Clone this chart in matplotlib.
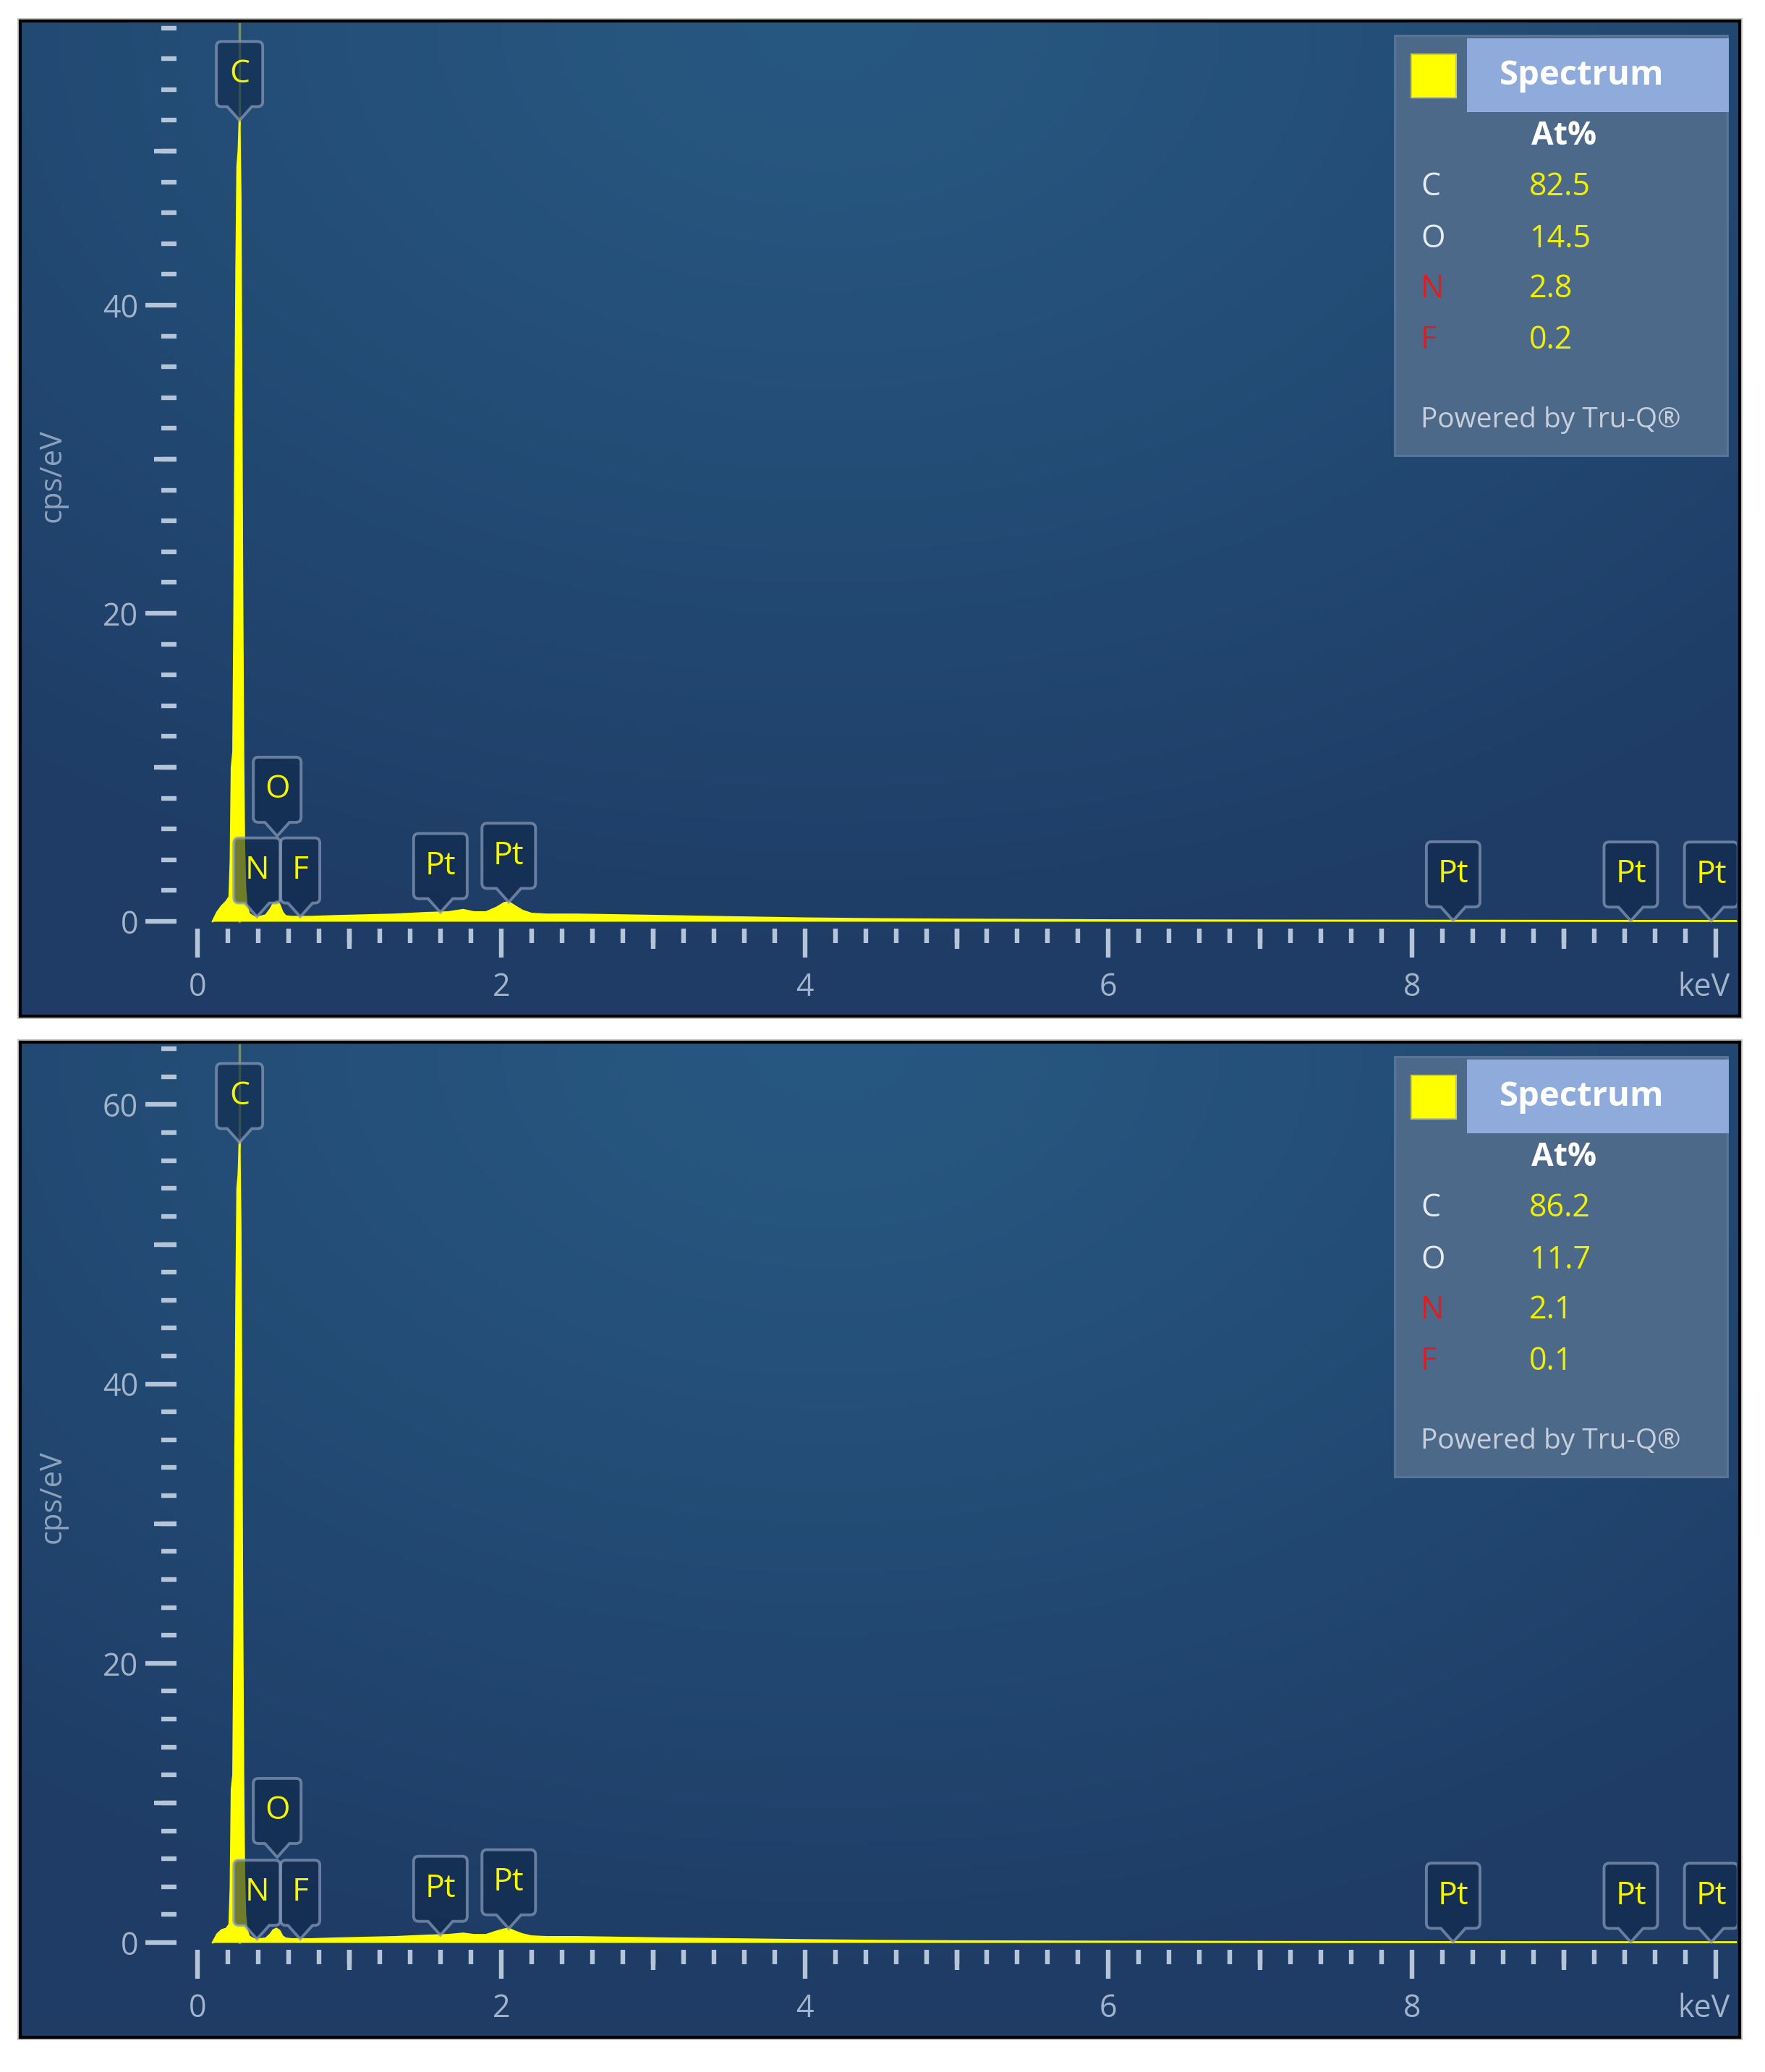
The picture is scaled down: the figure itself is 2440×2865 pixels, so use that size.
import numpy as np
import matplotlib
matplotlib.use('Agg')
import matplotlib.pyplot as plt
from matplotlib.path import Path
from matplotlib.patches import PathPatch, Rectangle
from matplotlib import transforms
from matplotlib.ticker import MultipleLocator, FixedLocator

plt.rcParams['font.family'] = ['Open Sans', 'DejaVu Sans']

# ---- data ----
energy_kev = [0.10, 0.13, 0.16, 0.19, 0.21, 0.218, 0.225, 0.235, 0.242, 0.248,
              0.255, 0.262, 0.270, 0.277, 0.284, 0.290, 0.296, 0.302, 0.308, 0.315,
              0.325, 0.34, 0.37, 0.41, 0.45, 0.48, 0.50, 0.52, 0.54, 0.56,
              0.58, 0.62, 0.68, 0.75, 0.90, 1.10, 1.30, 1.50, 1.65, 1.75,
              1.82, 1.90, 1.97, 2.02, 2.05, 2.09, 2.14, 2.20, 2.30, 2.50,
              2.80, 3.10, 3.50, 4.00, 4.50, 5.00, 6.00, 7.00, 8.00, 9.00, 10.20]
counts_top = [0.0, 0.6, 1.0, 1.3, 1.6, 4.0, 10.0, 11.0, 20.0, 31.0,
              42.0, 49.0, 50.0, 52.0, 47.0, 34.0, 21.0, 11.0, 5.0, 2.2,
              1.0, 0.5, 0.3, 0.3, 0.4, 0.8, 1.15, 1.3, 1.1, 0.6,
              0.35, 0.3, 0.3, 0.3, 0.35, 0.4, 0.45, 0.55, 0.6, 0.75,
              0.6, 0.6, 0.9, 1.2, 1.25, 1.0, 0.7, 0.5, 0.45, 0.45,
              0.4, 0.35, 0.28, 0.2, 0.15, 0.12, 0.08, 0.06, 0.05, 0.04, 0.03]
counts_bot = [0.0, 0.6, 0.9, 1.0, 1.3, 4.0, 11.0, 12.0, 22.0, 34.0,
              46.0, 54.0, 55.0, 57.3, 51.0, 38.0, 23.0, 12.0, 5.0, 2.0,
              0.9, 0.45, 0.25, 0.25, 0.3, 0.6, 0.9, 1.0, 0.85, 0.45,
              0.3, 0.25, 0.25, 0.25, 0.3, 0.35, 0.4, 0.5, 0.55, 0.65,
              0.55, 0.55, 0.8, 0.95, 1.0, 0.8, 0.6, 0.45, 0.4, 0.4,
              0.35, 0.3, 0.25, 0.18, 0.13, 0.1, 0.07, 0.05, 0.04, 0.03, 0.03]

peak_names = ['C', 'N', 'O', 'F', 'Pt', 'Pt', 'Pt', 'Pt', 'Pt']
peak_kev = [0.277, 0.392, 0.525, 0.677, 1.60, 2.05, 8.27, 9.44, 9.97]

quant_names = ['C', 'O', 'N', 'F']
quant_top = ['82.5', '14.5', '2.8', '0.2']
quant_bot = ['86.2', '11.7', '2.1', '0.1']

x_ticks = [0, 2, 4, 6, 8, 10]
x_ticklabels = ['0', '2', '4', '6', '8', 'keV']

# ---- layout (pixels of the 2440x2865 picture) ----
W, H = 2440, 2865
fig = plt.figure(figsize=(W / 100, H / 100), dpi=100)
fig.patch.set_facecolor('white')

PX_KEV = 209.9
X0_PX = 273
TICK_C = '#b6c4d8'
LABEL_C = '#a3b3c9'
TW = 4.6  # tick width, pt


def fbox(x0, y0, x1, y1):
    return [x0 / W, 1 - y1 / H, (x1 - x0) / W, (y1 - y0) / H]


def tag_path(w, h, tip_h, notch, r, dy):
    x0, x1 = -w / 2, w / 2
    y0, y1 = tip_h + dy, tip_h + h + dy
    verts = [(0, dy), (notch, y0), (x1 - r, y0), (x1, y0), (x1, y0 + r),
             (x1, y1 - r), (x1, y1), (x1 - r, y1), (x0 + r, y1), (x0, y1),
             (x0, y1 - r), (x0, y0 + r), (x0, y0), (x0 + r, y0), (-notch, y0), (0, dy)]
    codes = [Path.MOVETO, Path.LINETO, Path.LINETO, Path.CURVE3, Path.CURVE3,
             Path.LINETO, Path.CURVE3, Path.CURVE3, Path.LINETO, Path.CURVE3,
             Path.CURVE3, Path.LINETO, Path.CURVE3, Path.CURVE3, Path.LINETO, Path.CLOSEPOLY]
    return Path(verts, codes)


box_w = {'C': 64, 'N': 64, 'O': 66, 'F': 54, 'Pt': 74}


def panel(top, y0_px, px_unit, counts, quant):
    bottom = top + 1376
    # light shadow + frame
    fig.add_artist(Rectangle((24 / W, 1 - (bottom + 4) / H), 2385 / W, (bottom - top + 8) / H,
                             transform=fig.transFigure, fc='#c4c4c4', ec='none', zorder=-2))
    bg = fig.add_axes(fbox(28, top, 2405, bottom))
    yy, xx = np.mgrid[0:1:300j, 0:1:300j]
    t = np.clip(np.sqrt(((xx - 0.47) / 0.8) ** 2 + ((yy - 1.0) / 0.95) ** 2), 0, 1) ** 1.2
    bright = np.array([39, 88, 129]) / 255
    dark = np.array([30, 60, 102]) / 255
    img = bright[None, None, :] * (1 - t[..., None]) + dark[None, None, :] * t[..., None]
    bg.imshow(img, extent=[0, 1, 0, 1], origin='lower', aspect='auto')
    bg.set_xticks([])
    bg.set_yticks([])
    for s in bg.spines.values():
        s.set_color('black')
        s.set_linewidth(3)

    ytop = (y0_px - (top + 3)) / px_unit
    ybot = -10 / px_unit
    ax = fig.add_axes(fbox(244, top + 3, 2401, y0_px + 10))
    ax.set_facecolor('none')
    ax.set_xlim((244 - X0_PX) / PX_KEV, (2401 - X0_PX) / PX_KEV)
    ax.set_ylim(ybot, ytop)
    for s in ax.spines.values():
        s.set_visible(False)

    # C marker line
    ax.plot([peak_kev[0], peak_kev[0]], [0, ytop], color='#d8e060', alpha=0.45, lw=2.5, zorder=1)
    ax.fill_between(energy_kev, 0, counts, color='#ffff00', lw=0, zorder=2)
    ax.plot(energy_kev, counts, color='#ffff00', lw=1.8, zorder=2)

    ax.xaxis.set_major_locator(FixedLocator(x_ticks))
    ax.set_xticklabels(x_ticklabels)
    ax.xaxis.set_minor_locator(MultipleLocator(0.2))
    ax.yaxis.set_major_locator(MultipleLocator(20))
    ax.yaxis.set_minor_locator(MultipleLocator(2))
    ax.tick_params(axis='x', which='major', length=29, width=TW, color=TICK_C,
                   labelcolor=LABEL_C, labelsize=31, pad=14)
    ax.tick_params(axis='x', which='minor', length=14.5, width=TW, color=TICK_C)
    ax.tick_params(axis='y', which='major', length=31, width=TW, color=TICK_C,
                   labelcolor=LABEL_C, labelsize=31, pad=7)
    ax.tick_params(axis='y', which='minor', length=15, width=TW, color=TICK_C)
    kev = ax.get_xticklabels()[-1]
    kev.set_horizontalalignment('right')
    kev.set_transform(kev.get_transform() +
                      transforms.ScaledTranslation(0.2, 0, fig.dpi_scale_trans))

    sx = ax.secondary_xaxis('bottom')
    sx.xaxis.set_major_locator(FixedLocator([1, 3, 5, 7, 9]))
    sx.tick_params(length=20.5, width=TW, color=TICK_C, labelbottom=False)
    sx.spines['bottom'].set_visible(False)
    sy = ax.secondary_yaxis('left')
    sy.yaxis.set_major_locator(FixedLocator([10, 30, 50]))
    sy.tick_params(length=22, width=TW, color=TICK_C, labelleft=False)
    sy.spines['left'].set_visible(False)

    # peak tags
    for name, e in zip(peak_names, peak_kev):
        if name == 'O':
            ty, dy = 0.0, 118
        else:
            ty, dy = float(np.interp(e, energy_kev, counts)), 0
        tr = transforms.Affine2D() + transforms.ScaledTranslation(e, ty, ax.transData)
        w = box_w[name]
        p = PathPatch(tag_path(w, 90, 19, 17, 7, dy), transform=tr, fc='#0f2749', alpha=0.6,
                      ec='none', zorder=3)
        ax.add_patch(p)
        p2 = PathPatch(tag_path(w, 90, 19, 17, 7, dy), transform=tr, fc='none',
                       ec='#8497b6', lw=2.8, alpha=0.75, zorder=4)
        ax.add_patch(p2)
        ax.text(0, 19 + 45 + dy, name, transform=tr, ha='center', va='center',
                color='#f5f500', fontsize=32, zorder=5)

    fig.text(73 / W, 1 - (top + 629) / H, 'cps/eV', rotation=90, ha='center', va='center',
             color='#8ea2bc', fontsize=30)

    # quantification box
    d = top - 29
    fig.add_artist(Rectangle((1928 / W, 1 - (630 + d) / H), 460 / W, 581 / H,
                             transform=fig.transFigure, fc='#4d6989', ec='#5b7698', lw=2, zorder=6))
    fig.add_artist(Rectangle((2028 / W, 1 - (155 + d) / H), 362 / W, 102 / H,
                             transform=fig.transFigure, fc='#8eabdc', ec='none', zorder=7))
    fig.add_artist(Rectangle((1951 / W, 1 - (135 + d) / H), 62 / W, 60 / H,
                             transform=fig.transFigure, fc='#ffff00', ec='#c8c860', lw=1.5, zorder=7))
    fig.text(2187 / W, 1 - (104 + d) / H, 'Spectrum', ha='center', va='center', color='white',
             fontsize=34, fontweight='bold', zorder=8)
    fig.text(2162 / W, 1 - (188 + d) / H, 'At%', ha='center', va='center', color='white',
             fontsize=32, fontweight='bold', zorder=8)
    row_y = [259, 331, 400, 471]
    for name, val, ry in zip(quant_names, quant, row_y):
        c = '#e41a1c' if name in ('N', 'F') else '#e6ebf2'
        fig.text(1964 / W, 1 - (ry + d) / H, name, ha='left', va='center', color=c,
                 fontsize=31, zorder=8)
        fig.text(2114 / W, 1 - (ry + d) / H, val, ha='left', va='center', color='#f0f000',
                 fontsize=31, zorder=8)
    fig.text(1964 / W, 1 - (581 + d) / H, 'Powered by Tru-Q\u00ae', ha='left', va='center',
             color='#c6cfdb', fontsize=28, zorder=8)
    return ax


panel(29, 1274, 21.3, counts_top, quant_top)
panel(1441, 2686, 19.31, counts_bot, quant_bot)

fig.savefig('out.png', dpi=100, facecolor='white')
